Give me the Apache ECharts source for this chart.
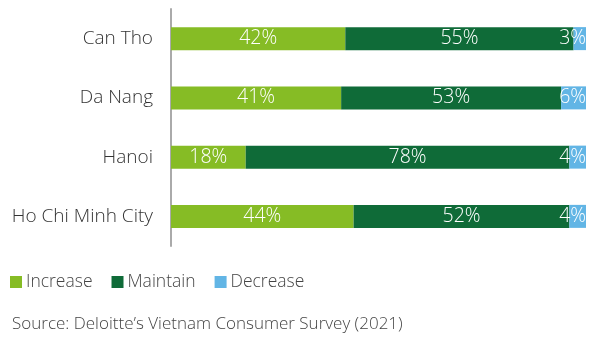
<!DOCTYPE html>
<html>
<head>
<meta charset="utf-8">
<script src="https://cdn.jsdelivr.net/npm/echarts@6/dist/echarts.min.js"></script>
<style>
  html, body { margin: 0; padding: 0; background: #fff; }
  #main { width: 600px; height: 348px; }
</style>
</head>
<body>
<div id="main"></div>
<script>
const cities = ["Can Tho", "Da Nang", "Hanoi", "Ho Chi Minh City"];
const increase = [42, 41, 18, 44];
const maintain = [55, 53, 78, 52];
const decrease = [3, 6, 4, 4];

const chart = echarts.init(document.getElementById("main"));
const font = "'Open Sans', 'Noto Sans', sans-serif";

const label = {
  show: true,
  color: "#fff",
  fontFamily: font,
  fontSize: 19.5,
  fontWeight: 300,
  formatter: "{c}%",
};

chart.setOption({
  animation: false,
  textStyle: { fontFamily: font },
  grid: { left: 171, right: 14, top: 9, bottom: 102 },
  legend: {
    left: 5,
    top: 268,
    itemWidth: 12,
    itemHeight: 12,
    itemGap: 19,
    icon: "rect",
    textStyle: { fontSize: 17.5, fontWeight: 300, color: "#444", padding: [0, 0, 0, -1] },
    data: ["Increase", "Maintain", "Decrease"],
  },
  graphic: [
    {
      type: "text",
      left: 12,
      top: 316,
      style: {
        text: "Source: Deloitte\u2019s Vietnam Consumer Survey (2021)",
        fill: "#444",
        font: "300 17px " + font,
      },
    },
  ],
  xAxis: {
    type: "value",
    min: 0,
    max: 100,
    show: false,
  },
  yAxis: {
    type: "category",
    data: cities,
    inverse: true,
    axisLine: { lineStyle: { color: "#aaa", width: 2 } },
    axisTick: { show: false },
    axisLabel: { color: "#333", fontSize: 19, fontWeight: 300, margin: 18, fontFamily: font },
  },
  series: [
    {
      name: "Increase",
      type: "bar",
      stack: "all",
      barWidth: 23,
      itemStyle: { color: "#86bc25" },
      label: label,
      data: increase,
    },
    {
      name: "Maintain",
      type: "bar",
      stack: "all",
      barWidth: 23,
      itemStyle: { color: "#0f6b38" },
      label: label,
      data: maintain,
    },
    {
      name: "Decrease",
      type: "bar",
      stack: "all",
      barWidth: 23,
      itemStyle: { color: "#62b5e5" },
      label: Object.assign({}, label, { position: "insideRight", distance: 0 }),
      data: decrease,
    },
  ],
});
</script>
</body>
</html>
